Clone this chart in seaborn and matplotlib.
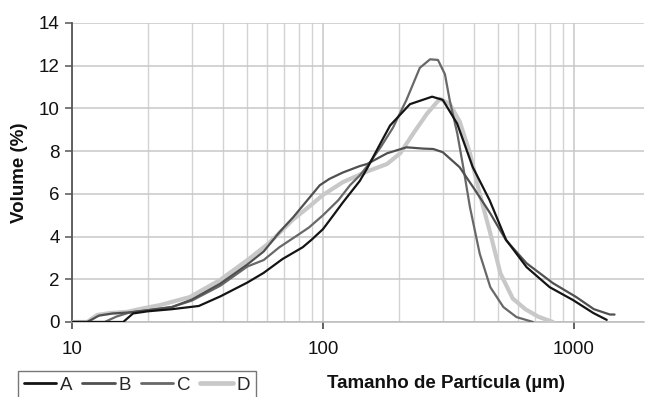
import matplotlib
matplotlib.use("Agg")
import matplotlib.pyplot as plt
import seaborn as sns
import pandas as pd
import numpy as np
from matplotlib.ticker import LogLocator, NullFormatter, FixedLocator

# ---- data ----
series_names = ["A", "B", "C", "D"]

a_size = [10, 16, 17.5, 20, 25, 32, 39, 50, 58, 69, 83, 90, 100, 110, 120, 140, 150, 170, 185,
          222, 272, 300, 342, 395, 461, 536, 647, 800, 990, 1194, 1350]
a_vol = [0, 0, 0.4, 0.5, 0.6, 0.75, 1.2, 1.85, 2.3, 2.95, 3.5, 3.85, 4.35, 5.0, 5.6, 6.6, 7.2, 8.4, 9.2,
         10.2, 10.55, 10.4, 9.3, 7.25, 5.7, 3.85, 2.57, 1.63, 1.03, 0.42, 0.1]

b_size = [10, 11.5, 12.8, 14.5, 17, 20, 25, 30, 39, 50, 58, 67, 76, 88, 97, 106, 120, 140, 150,
          180, 215, 250, 275, 300, 350, 397, 464, 536, 647, 824, 1020, 1200, 1390, 1450]
b_vol = [0, 0, 0.3, 0.4, 0.45, 0.55, 0.7, 1.05, 1.8, 2.7, 3.3, 4.2, 4.9, 5.8, 6.4, 6.7, 7.0, 7.3, 7.4,
         7.9, 8.18, 8.12, 8.1, 7.95, 7.25, 6.3, 5.08, 3.83, 2.75, 1.82, 1.17, 0.6, 0.35, 0.35]

c_size = [10, 13.5, 15, 17, 20, 25, 30, 39, 50, 58, 67, 80, 88, 100, 115, 128, 140, 150, 170,
          190, 215, 243, 267, 287, 306, 320, 343, 362, 385, 421, 464, 523, 590, 687]
c_vol = [0, 0, 0.25, 0.45, 0.55, 0.7, 1.0, 1.7, 2.6, 2.9, 3.5, 4.1, 4.43, 5.0, 5.7, 6.4, 6.86, 7.3, 8.2,
         9.1, 10.4, 11.9, 12.3, 12.27, 11.6, 10.36, 8.8, 7.25, 5.37, 3.2, 1.63, 0.7, 0.23, 0.0]

d_size = [10, 11.5, 12.6, 14.2, 16.5, 19.2, 22.4, 29.5, 38.8, 50, 61, 76, 88, 100, 120, 150, 180,
          203, 228, 259, 292, 320, 350, 385, 421, 464, 509, 570, 640, 720, 824]
d_vol = [0, 0, 0.33, 0.42, 0.47, 0.64, 0.79, 1.17, 1.96, 2.9, 3.7, 4.8, 5.4, 5.95, 6.55, 7.05, 7.4,
         7.9, 8.8, 9.74, 10.45, 10.2, 9.4, 7.9, 6.0, 4.15, 2.28, 1.1, 0.6, 0.25, 0.0]

y_ticks = [0, 2, 4, 6, 8, 10, 12, 14]
x_ticks = [10, 100, 1000]
x_tick_labels = ["10", "100", "1000"]

sizes = {"A": a_size, "B": b_size, "C": c_size, "D": d_size}
vols = {"A": a_vol, "B": b_vol, "C": c_vol, "D": d_vol}

df = pd.concat([pd.DataFrame({"size": sizes[s], "vol": vols[s], "series": s}) for s in series_names],
               ignore_index=True)

colors = {"A": "#141414", "B": "#505050", "C": "#686868", "D": "#c8c8c8"}
widths = {"A": 1.6, "B": 1.6, "C": 1.6, "D": 3.0}

sns.set_theme(style="white")
plt.rcParams["font.family"] = ["Liberation Sans", "DejaVu Sans"]

FS = 13.5

fig = plt.figure(figsize=(6.45, 3.97), dpi=100)
ax = fig.add_axes([72 / 645, 1 - 322 / 397, (644 - 72) / 645, (322 - 23) / 397])

for s in ["D", "C", "B", "A"]:
    sub = df[df["series"] == s]
    sns.lineplot(data=sub, x="size", y="vol", ax=ax, color=colors[s], linewidth=widths[s],
                 sort=False, estimator=None, label=s, legend=False, zorder=3)

ax.set_xscale("log")
ax.set_xlim(10, 1900)
ax.set_ylim(0, 14)
ax.set_yticks(y_ticks)
ax.xaxis.set_major_locator(FixedLocator(x_ticks))
ax.set_xticklabels(x_tick_labels)
ax.xaxis.set_minor_locator(LogLocator(base=10, subs=np.arange(2, 10)))
ax.xaxis.set_minor_formatter(NullFormatter())

ax.grid(True, which="major", axis="both", color="#c8c8c8", linewidth=1.1, zorder=0)
ax.grid(True, which="minor", axis="x", color="#d2d2d2", linewidth=1.0, zorder=0)
ax.set_axisbelow(True)

for sp in ["top", "right"]:
    ax.spines[sp].set_visible(False)
ax.spines["left"].set_color("#555555")
ax.spines["left"].set_linewidth(1.3)
ax.spines["bottom"].set_color("#bbbbbb")
ax.spines["bottom"].set_linewidth(1.1)

ax.tick_params(axis="y", which="major", direction="out", length=5, width=1.1, color="#555555",
               labelsize=FS, labelcolor="#111111", pad=4, left=True)
ax.tick_params(axis="x", which="major", direction="out", length=5, width=1.3, color="#555555",
               labelsize=FS, labelcolor="#111111", pad=9, bottom=True)
ax.tick_params(axis="x", which="minor", length=0)

ax.set_xlabel("")
ax.set_ylabel("Volume (%)", fontsize=FS, fontweight="bold", color="#111111", labelpad=8)

fig.text(446 / 645, 1 - 383 / 397, "Tamanho de Partícula (µm)", fontsize=FS, fontweight="bold",
         ha="center", va="center", color="#111111")

handles = [plt.Line2D([], [], color=colors[s], linewidth=widths[s] + 0.4) for s in series_names]
leg = fig.legend(handles, series_names, loc="upper left", bbox_to_anchor=(18 / 645, 1 - 371 / 397),
                 ncol=4, frameon=True, fancybox=False, fontsize=FS, handlelength=1.75,
                 handletextpad=0.2, columnspacing=0.5, borderpad=0.3, borderaxespad=0)
leg.get_frame().set_edgecolor("#555555")
leg.get_frame().set_linewidth(1.0)

fig.savefig("out.png", dpi=100)
